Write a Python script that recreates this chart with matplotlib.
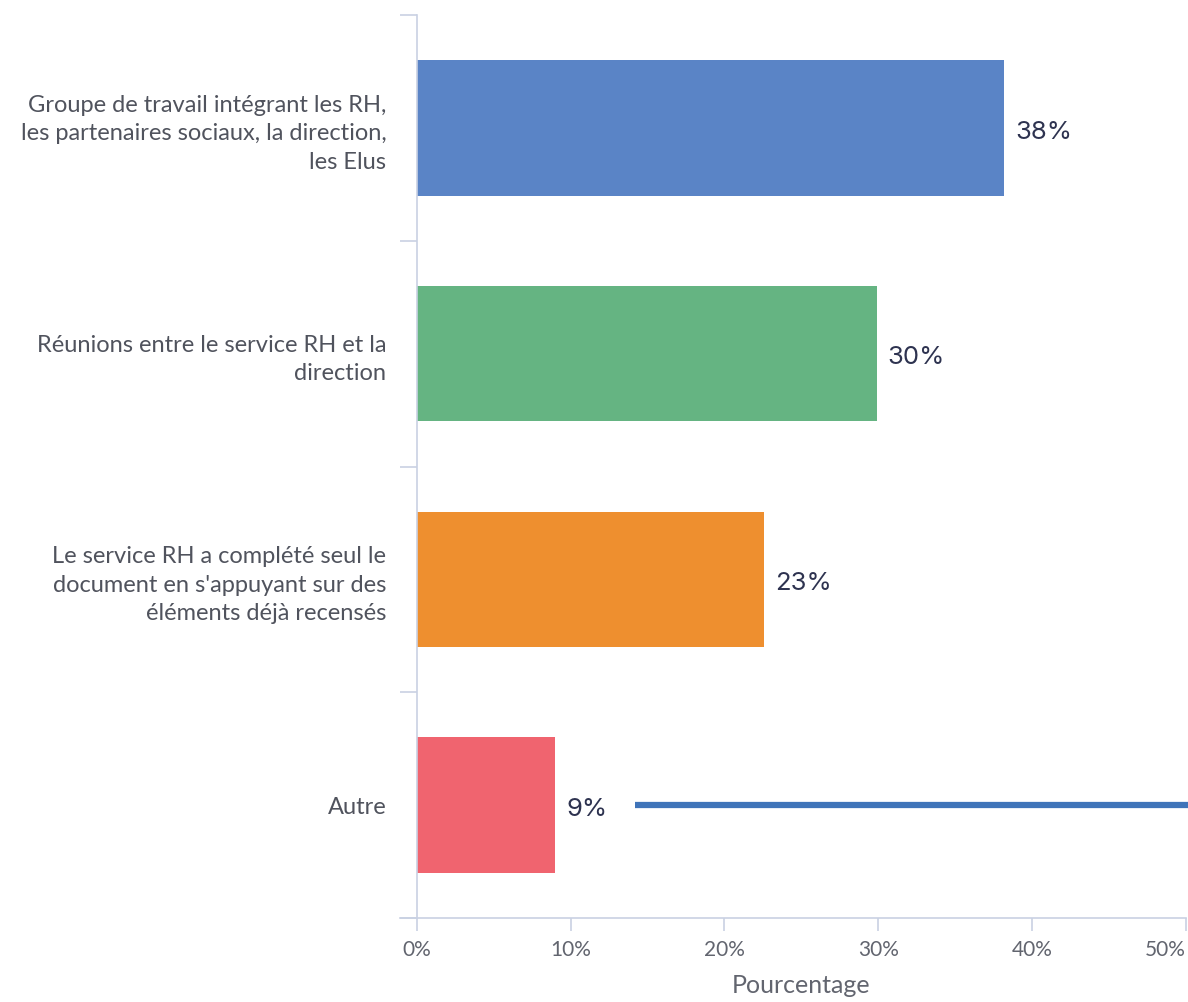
import matplotlib.pyplot as plt

# survey answers, top to bottom
categories = [
    "Groupe de travail intégrant les RH,\nles partenaires sociaux, la direction,\nles Elus",
    "Réunions entre le service RH et la\ndirection",
    "Le service RH a complété seul le\ndocument en s'appuyant sur des\néléments déjà recensés",
    "Autre",
]
values = [38.2, 29.9, 22.6, 9.0]
colors = ["#5a84c6", "#65b482", "#ee8f2f", "#f0646f"]
xticks = [0, 10, 20, 30, 40, 50]
xtick_labels = ["0%", "10%", "20%", "30%", "40%", "50%"]

plt.rcParams['font.family'] = ['Lato', 'DejaVu Sans']

fig = plt.figure(figsize=(11.88, 10.02), dpi=100)
ax = fig.add_axes([0.351, 0.0838, 0.647, 0.9012])

pos = list(range(len(categories)))
ax.barh(pos, values, height=0.6, color=colors)
ax.set_ylim(len(categories) - 0.5, -0.5)
ax.set_xlim(0, 50)

for p, v in zip(pos, values):
    ax.annotate(f"{round(v)}%", (v, p), xytext=(8, -3), textcoords="offset points",
                ha="left", va="center", fontsize=18.5, color="#2e3350", family=["Inter", "DejaVu Sans"])

# stray marker line next to the "Autre" bar
ax.plot([14.2, 50.2], [3, 3], color="#3f74b9", lw=4.5, solid_capstyle="butt", clip_on=False)

axis_col = "#c9d1e3"
for s in ["top", "right"]:
    ax.spines[s].set_visible(False)
ax.spines["left"].set_color(axis_col)
ax.spines["bottom"].set_color(axis_col)
ax.spines["left"].set_linewidth(1.2)
ax.spines["bottom"].set_linewidth(1.2)
ax.spines["bottom"].set_bounds(-1.1, 50)

ax.set_xticks(xticks)
ax.set_xticklabels(xtick_labels)
ax.tick_params(axis="x", length=9, width=1.2, color=axis_col, labelsize=15, labelcolor="#62656f", pad=7)
# last label is pulled inside the figure edge
ax.get_xticklabels()[-1].set_ha("right")

# category labels sit between the boundary ticks
ax.set_yticks([p - 0.5 for p in pos] + [len(pos) - 0.5])
ax.set_yticklabels([])
ax.set_yticks(pos, minor=True)
ax.set_yticklabels(categories, minor=True, fontsize=17, color="#50535d", linespacing=1.45, ha="right")
ax.tick_params(axis="y", which="major", length=12, width=1.2, color=axis_col)
ax.tick_params(axis="y", which="minor", length=0, pad=22)

ax.set_xlabel("Pourcentage", fontsize=18, color="#62656f", labelpad=10)

fig.savefig("out.png", dpi=100)
